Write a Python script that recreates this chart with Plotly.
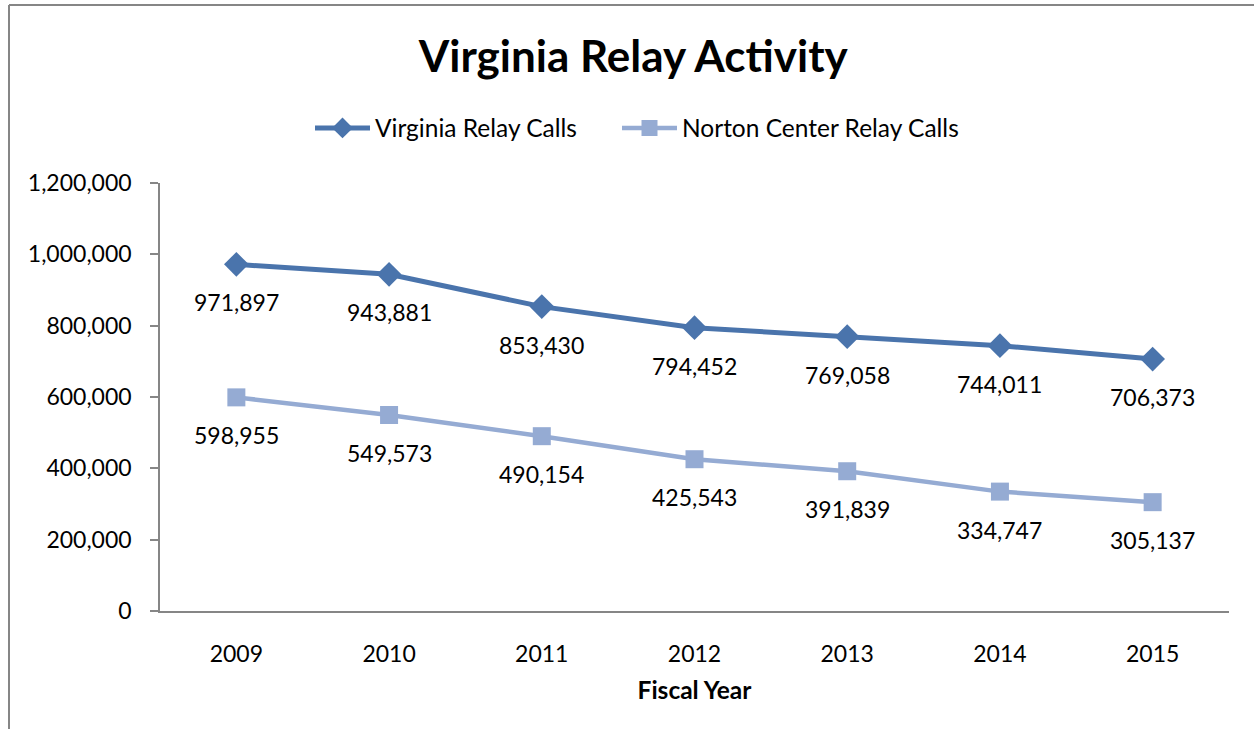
import plotly.graph_objects as go

years = ['2009', '2010', '2011', '2012', '2013', '2014', '2015']
virginia_calls = [971897, 943881, 853430, 794452, 769058, 744011, 706373]
norton_calls = [598955, 549573, 490154, 425543, 391839, 334747, 305137]
y_ticks = [0, 200000, 400000, 600000, 800000, 1000000, 1200000]

FONT = 'Lato'
AXIS_GRAY = '#868686'
DARK_BLUE = '#4A74AC'
LIGHT_BLUE = '#95ABD3'

fig = go.Figure()

fig.add_trace(go.Scatter(
    x=years, y=virginia_calls,
    mode='lines+markers',
    name='Virginia Relay Calls',
    line=dict(color=DARK_BLUE, width=5),
    marker=dict(symbol='diamond', size=19, color=DARK_BLUE),
    legend='legend'
))

fig.add_trace(go.Scatter(
    x=years, y=norton_calls,
    mode='lines+markers',
    name='Norton Center Relay Calls',
    line=dict(color=LIGHT_BLUE, width=4.5),
    marker=dict(symbol='square', size=18, color=LIGHT_BLUE),
    legend='legend2'
))

# data labels under each point (category index, since '2009' would be read as an index)
for series in (virginia_calls, norton_calls):
    for i, val in enumerate(series):
        fig.add_annotation(
            x=i, y=val, xref='x', yref='y',
            text=f'{val:,}', showarrow=False,
            yshift=-38, yanchor='middle',
            font=dict(family=FONT, size=23, color='black')
        )

# chart area border (left and top edges visible)
l, r, t, b = 160, 25, 183, 118
pw = 1254 - l - r
ph = 729 - t - b
bx0 = (9 - l) / pw
by1 = (729 - b - 5) / ph
fig.add_shape(type='line', xref='paper', yref='paper',
              x0=bx0, x1=bx0, y0=-(b + 10) / ph, y1=by1,
              line=dict(color=AXIS_GRAY, width=2))
fig.add_shape(type='line', xref='paper', yref='paper',
              x0=bx0, x1=(pw + r + 10) / pw, y0=by1, y1=by1,
              line=dict(color=AXIS_GRAY, width=2))

legend_style = dict(orientation='h', xanchor='left',
                    y=(729 - b - 128) / ph, yanchor='middle',
                    font=dict(family=FONT, size=24.5), itemwidth=55,
                    bgcolor='rgba(0,0,0,0)')

fig.update_layout(
    width=1254, height=729,
    margin=dict(l=l, r=r, t=t, b=b),
    paper_bgcolor='white', plot_bgcolor='white',
    font=dict(family=FONT, size=22, color='black'),
    title=dict(text='<b>Virginia Relay Activity</b>', x=0.505, xanchor='center',
               y=1 - 57 / 729, yanchor='middle',
               font=dict(family=FONT, size=44, color='black')),
    legend=dict(x=(310 - l) / pw, **legend_style),
    legend2=dict(x=(617 - l) / pw, **legend_style),
    showlegend=True,
    xaxis=dict(
        type='category', range=[-0.5, 6.5],
        showline=True, linecolor=AXIS_GRAY, linewidth=1.5,
        ticks='', showgrid=False, zeroline=False,
        ticklabelstandoff=22,
        tickfont=dict(family=FONT, size=23),
        title=dict(text='<b>Fiscal Year</b>', standoff=16,
                   font=dict(family=FONT, size=24.5))
    ),
    yaxis=dict(
        range=[0, 1200000], tickvals=y_ticks,
        ticktext=[f'{v:,}' for v in y_ticks],
        showline=True, linecolor=AXIS_GRAY, linewidth=1.5,
        ticks='outside', ticklen=8, tickcolor=AXIS_GRAY, tickwidth=1.5,
        showgrid=False, zeroline=False,
        ticklabelstandoff=14,
        tickfont=dict(family=FONT, size=23)
    )
)

fig.write_html('out.html', config={'displayModeBar': False},
               post_script="document.body.style.margin='0';")
